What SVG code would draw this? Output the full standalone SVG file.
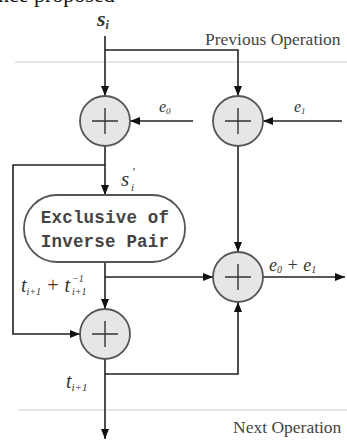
<svg xmlns="http://www.w3.org/2000/svg" width="347" height="441" viewBox="0 0 347 441">
<style>
.ln{fill:none;stroke:#222;stroke-width:1.6}
.sep{fill:none;stroke:#cfcfcf;stroke-width:1.2}
.xor circle{fill:#e6e6e6;stroke:#555;stroke-width:1.8}
.xor path{fill:none;stroke:#333;stroke-width:1.4}
.it{font-family:"Liberation Serif",serif;font-style:italic;fill:#333}
.cap{font-family:"Liberation Serif",serif;fill:#444;font-size:17.5px}
.box{fill:#fff;stroke:#555;stroke-width:1.8}
.mono{font-family:"Liberation Mono",monospace;font-weight:bold;font-size:17.5px;fill:#444;letter-spacing:0.2px}
</style>
<defs>
<marker id="ah" viewBox="0 0 10 10" refX="10" refY="5" markerWidth="10" markerHeight="10" markerUnits="userSpaceOnUse" orient="auto"><path d="M0,1 L10,5 L0,9 z" fill="#111"/></marker>
</defs>
<text x="-2" y="2" font-family="Liberation Serif,serif" font-size="22" fill="#111">nce   proposed</text>
<g id="separators">
<path class="sep" d="M15,62 H347"/>
<path class="sep" d="M18,410 H347"/>
</g>
<text class="cap" x="205" y="45">Previous Operation</text>
<text class="cap" x="233" y="433">Next Operation</text>
<g id="connectors">
<path class="ln" d="M105,36 V96" marker-end="url(#ah)"/>
<path class="ln" d="M105,50 H238 V96" marker-end="url(#ah)"/>
<path class="ln" d="M193,121 H130" marker-end="url(#ah)"/>
<path class="ln" d="M342,121 H263" marker-end="url(#ah)"/>
<path class="ln" d="M105,146 V195" marker-end="url(#ah)"/>
<path class="ln" d="M105,165 H13 V334 H80" marker-end="url(#ah)"/>
<path class="ln" d="M238,146 V252" marker-end="url(#ah)"/>
<path class="ln" d="M105,262 V309" marker-end="url(#ah)"/>
<path class="ln" d="M105,277 H213" marker-end="url(#ah)"/>
<path class="ln" d="M263,277 H345" marker-end="url(#ah)"/>
<path class="ln" d="M105,359 V439" marker-end="url(#ah)"/>
<path class="ln" d="M105,374 H238 V302" marker-end="url(#ah)"/>
</g>
<g id="xor1" class="xor"><circle cx="105" cy="121" r="25"/><path d="M92,121 H118 M105,108 V134"/></g>
<g id="xor2" class="xor"><circle cx="238" cy="121" r="25"/><path d="M225,121 H251 M238,108 V134"/></g>
<g id="xor3" class="xor"><circle cx="105" cy="334" r="25"/><path d="M92,334 H118 M105,321 V347"/></g>
<g id="xor4" class="xor"><circle cx="238" cy="277" r="25"/><path d="M225,277 H251 M238,264 V290"/></g>
<g id="inverse-pair">
<rect class="box" x="24" y="195" width="161" height="67" rx="33"/>
<text class="mono" x="105" y="223" text-anchor="middle">Exclusive of</text>
<text class="mono" x="105" y="247" text-anchor="middle">Inverse Pair</text>
</g>
<g id="labels">
<text class="it" x="97" y="26" font-size="22" font-weight="bold">s<tspan font-size="12" dy="3">i</tspan></text>
<text class="it" x="159" y="112" font-size="16">e<tspan font-size="9" dy="2">0</tspan></text>
<text class="it" x="294" y="112" font-size="16">e<tspan font-size="9" dy="2">1</tspan></text>
<text class="it" x="121" y="186" font-size="21">s</text>
<text class="it" x="132" y="176" font-size="12">′</text>
<text class="it" x="131" y="191" font-size="11">i</text>
<text class="it" x="21" y="292" font-size="20">t<tspan font-size="10" dy="3">i+1</tspan><tspan dy="-3"> + t</tspan></text>
<text class="it" x="72" y="282" font-size="10">−1</text>
<text class="it" x="72" y="295" font-size="10">i+1</text>
<text class="it" x="269" y="271" font-size="18">e<tspan font-size="10" dy="2">0</tspan><tspan dy="-2"> + e</tspan><tspan font-size="10" dy="2">1</tspan></text>
<text class="it" x="66" y="388" font-size="20">t<tspan font-size="11" dy="3">i+1</tspan></text>
</g>
</svg>
